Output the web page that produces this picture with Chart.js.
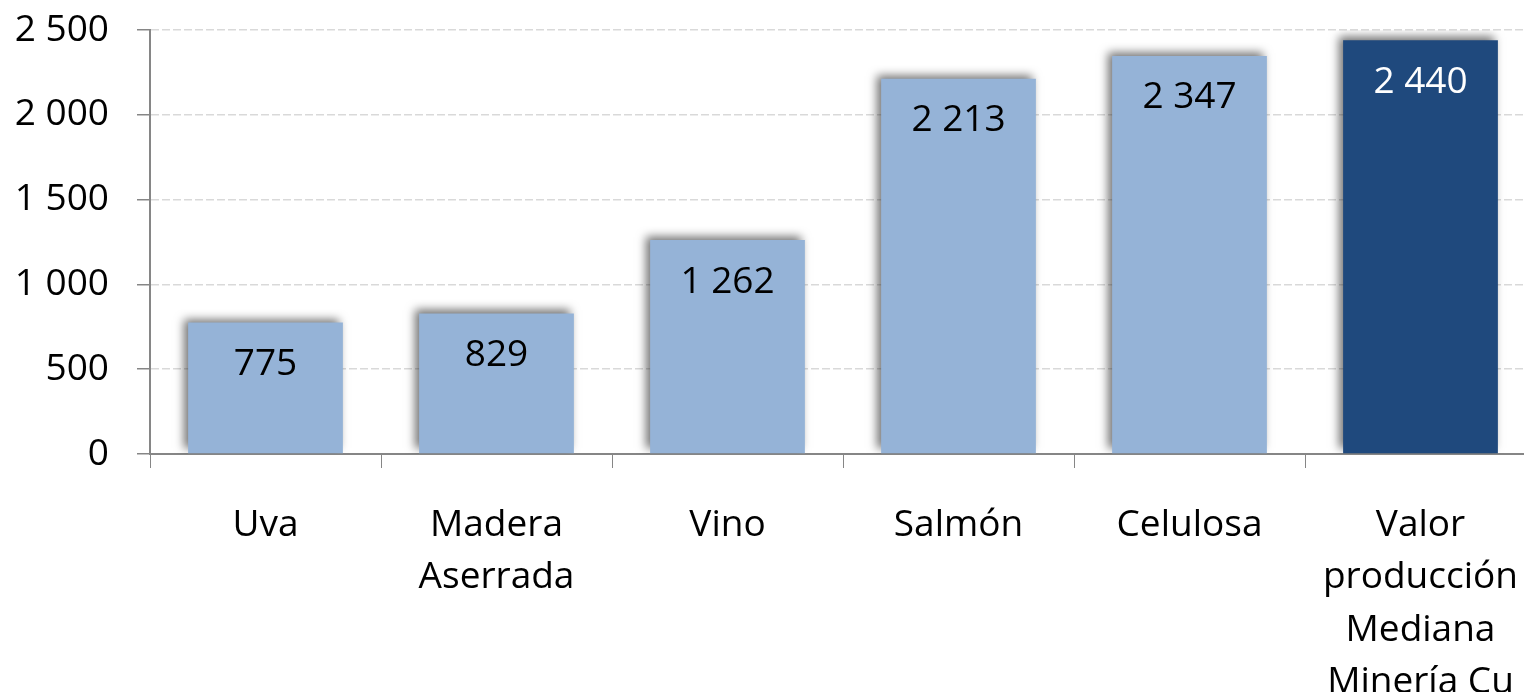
<!DOCTYPE html>
<html>
<head>
<meta charset="utf-8">
<script src="https://cdn.jsdelivr.net/npm/chart.js@4/dist/chart.umd.min.js"></script>
<style>
  html, body { margin: 0; padding: 0; background: #fff; overflow: hidden; }
  #wrap { width: 1540px; height: 692px; }
</style>
</head>
<body>
<div id="wrap"><canvas id="c" width="1540" height="692"></canvas></div>
<script>
const categories = [
  ['Uva'],
  ['Madera', 'Aserrada'],
  ['Vino'],
  ['Salmón'],
  ['Celulosa'],
  ['Valor', 'producción', 'Mediana', 'Minería Cu']
];
const values = [775, 829, 1262, 2213, 2347, 2440];
const yTicks = [0, 500, 1000, 1500, 2000, 2500];

const FONT = "'Open Sans', 'DejaVu Sans', sans-serif";
const LIGHT = '#95B3D7';
const DARK = '#1F497D';

function fmt(n) {
  return String(n).replace(/\B(?=(\d{3})+(?!\d))/g, ' ');
}

const shadowPlugin = {
  id: 'barShadow',
  beforeDatasetDraw(chart) {
    const ctx = chart.ctx;
    ctx.save();
    ctx.shadowColor = 'rgba(0,0,0,0.55)';
    ctx.shadowBlur = 9;
    ctx.shadowOffsetX = -4;
    ctx.shadowOffsetY = -4;
  },
  afterDatasetDraw(chart) {
    chart.ctx.restore();
  }
};

const labelPlugin = {
  id: 'barLabels',
  afterDatasetsDraw(chart) {
    const ctx = chart.ctx;
    const meta = chart.getDatasetMeta(0);
    ctx.save();
    ctx.font = '37px ' + FONT;
    ctx.textAlign = 'center';
    ctx.textBaseline = 'middle';
    meta.data.forEach((bar, i) => {
      ctx.fillStyle = i === values.length - 1 ? '#ffffff' : '#000000';
      ctx.fillText(fmt(values[i]), bar.x, bar.y + 42);
    });
    ctx.restore();
  }
};

new Chart(document.getElementById('c'), {
  type: 'bar',
  data: {
    labels: categories,
    datasets: [{
      data: values,
      backgroundColor: values.map((v, i) => i === values.length - 1 ? DARK : LIGHT),
      borderWidth: 0,
      categoryPercentage: 1.0,
      barPercentage: 0.67
    }]
  },
  options: {
    responsive: false,
    animation: false,
    events: [],
    layout: { padding: { top: 30, right: 4, left: 0, bottom: 0 } },
    plugins: {
      legend: { display: false },
      tooltip: { enabled: false }
    },
    scales: {
      x: {
        grid: {
          display: true,
          drawOnChartArea: false,
          drawTicks: true,
          tickLength: 14,
          tickColor: '#868686',
          offset: true
        },
        border: { display: true, color: '#868686', width: 2 },
        ticks: {
          color: '#000',
          font: { family: FONT, size: 37, lineHeight: 1.42 },
          padding: 31,
          maxRotation: 0,
          autoSkip: false
        },
        afterFit(s) {
          s.height = 238;
          s.paddingLeft = 0; s.paddingRight = 0;
          s.paddingTop = 0; s.paddingBottom = 0;
        }
      },
      y: {
        min: 0,
        max: 2500,
        afterBuildTicks(s) { s.ticks = yTicks.map(v => ({ value: v })); },
        grid: {
          color: (c) => c.tick && c.tick.value === 0 ? 'rgba(0,0,0,0)' : '#D9D9D9',
          lineWidth: 1.5,
          tickColor: '#868686',
          tickLength: 13,
          tickBorderDash: [],
          drawTicks: true
        },
        border: { display: true, color: '#868686', width: 2, dash: [8, 3] },
        ticks: {
          color: '#000',
          font: { family: FONT, size: 37 },
          padding: 28,
          callback: (v) => fmt(v)
        },
        afterFit(s) {
          s.width = 150;
          s.paddingLeft = 0; s.paddingRight = 0;
          s.paddingTop = 0; s.paddingBottom = 0;
        }
      }
    }
  },
  plugins: [shadowPlugin, labelPlugin]
});
</script>
</body>
</html>
